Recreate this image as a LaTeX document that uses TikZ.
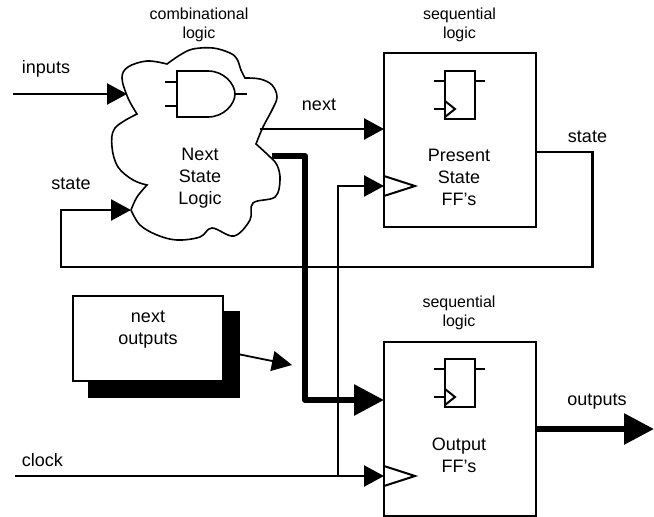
\documentclass[tikz,border=0pt]{standalone}
\usepackage{fontspec}
\setmainfont{Liberation Sans}
\usetikzlibrary{arrows.meta, positioning}
\tikzset{
    lbl/.style={align=center, inner sep=0pt, font=\fontsize{18}{22}\selectfont},
    smalllbl/.style={align=center, inner sep=0pt, font=\fontsize{16}{19}\selectfont},
    ffbox/.style={draw, line width=2pt, outer sep=0pt, inner sep=0pt, minimum width=#1},
    wire/.style={line width=2.4pt, -{Triangle[length=20pt,width=21pt]}},
    bus/.style={line width=6pt, -{Triangle[length=30pt,width=30pt]}},
    pin/.style={line width=2pt}
}
\begin{document}
\begin{tikzpicture}[x=1pt, y=-1pt]
            \useasboundingbox (0,0) rectangle (654,517);
            % the cloud
            \draw[line width=1.6pt] plot[smooth, tension=.6] coordinates {(131,210) (140,225) (157,235) (177,240) (200,237) (212,228) (234,236) (250,220) (253,203) (275,197) (280,180) (277,165) (268,155) (256,144)}
                -- plot[smooth, tension=.6] coordinates {(256,144) (263,127) (272,110) (277,97) (272,85) (260,79) (245,78)}
                -- plot[smooth, tension=.6] coordinates {(245,78) (241,70) (237,59) (230,53) (213,48) (193,49) (180,55) (167,64)}
                -- plot[smooth, tension=.6] coordinates {(167,64) (147,61) (128,67) (122,78) (128,98) (137,114)}
                -- plot[smooth, tension=.6] coordinates {(137,114) (115,128) (112,147) (118,167) (133,180) (147,185)}
                -- plot[smooth, tension=.6] coordinates {(147,185) (137,197) (131,210)};
            % the and gate
            \draw[line width=1.6pt] (177,71) -- (208,71) .. controls (224,71) and (235,84) .. (235,94) .. controls (235,104) and (224,117) .. (208,117) -- (177,117) -- cycle;
            \draw[line width=1.2pt] (177,82) -- (165,82);
            \draw[line width=1.2pt] (177,106) -- (165,106);
            \draw[line width=1.2pt] (235,94) -- (247,94);
            \node[lbl] at (200,178) (nextlogic) {Next\\State\\Logic};
            \node[smalllbl] at (199,25) (comblbl) {combinational\\logic};
            % the boxes
            \node[ffbox=152pt, minimum height=174pt] at (460,140) (present) {};
            \node[ffbox=152pt, minimum height=174pt] at (460,429) (output) {};
            \node[smalllbl] at (459.5,25) (seqlbl1) {sequential\\logic};
            \node[smalllbl] at (459,313) (seqlbl2) {sequential\\logic};
            \node[lbl] at (459,177) (presentlbl) {Present\\State\\FF's};
            \node[lbl] at (459,455) (outputlbl) {Output\\FF's};
            % flip-flop symbols
            \foreach \name/\ytop in {ffa/71, ffb/359} {
                \node[ffbox=30pt, minimum height=48pt, anchor=north] at (460,\ytop) (\name) {};
                \draw[pin] (\name.north west) ++(0,9.5) -- ++(-11,0);
                \draw[pin] (\name.north east) ++(0,9.5) -- ++(10,0);
                \draw[pin] (\name.south west) ++(0,-10) -- ++(-11,0);
                \draw[pin] (\name.south west) ++(0,-18) -- ++(10,8) -- ++(-10,8);
            }
            % clock triangles
            \foreach \name/\yc in {present/186, output/476} {
                \draw[line width=2pt] (\name.west |- 0,\yc) ++(0,-10) -- ++(31,10) -- ++(-31,10);
            }
            % shadowed box
            \node[fill=black, minimum width=152pt, minimum height=87pt, inner sep=0pt, outer sep=0pt] at (164,354.5) (shadow) {};
            \node[ffbox=150pt, fill=white, minimum height=85pt, line width=1.5pt] at (148,338.5) (nextout) {};
            \node[lbl] at (148,329.5) (nextoutlbl) {next\\outputs};
            \coordinate (muxtip) at (292,365);
            \draw[line width=1.8pt, -{Triangle[length=20pt,width=20pt]}] (shadow.east) -- (muxtip);
            % free ends
            \coordinate (inputsin) at (13,94);
            \coordinate (inputsend) at (127,94);
            \coordinate (stateend) at (131,210);
            \coordinate (nextstart) at (260,129);
            \coordinate (busstart) at (272,156);
            \coordinate (clockin) at (15,476);
            \coordinate (outputsend) at (654,429);
            % connectors
            \draw[wire] (inputsin) -- (inputsend);
            \draw[wire] (present.east |- 0,152) -| (592.5,267) -| (61,210) -- (stateend);
            \draw[wire] (nextstart) -- (present.west |- nextstart);
            \draw[bus, line join=round] (busstart) -| (305,400) -- (output.west |- 0,400);
            \draw[wire] (clockin) -- (output.west |- clockin);
            \draw[wire] (338,476) |- (present.west |- 0,186);
            \draw[bus] (output.east) -- (outputsend);
            % signal labels
            \node[lbl] at (46,69) (inputslbl) {inputs};
            \node[lbl] at (71,184) (statelbl1) {state};
            \node[lbl] at (319,105) (nextlbl) {next};
            \node[lbl] at (587.5,137) (statelbl2) {state};
            \node[lbl] at (597,402) (outputslbl) {outputs};
            \node[lbl] at (42.5,460) (clocklbl) {clock};
        \end{tikzpicture}
\end{document}
